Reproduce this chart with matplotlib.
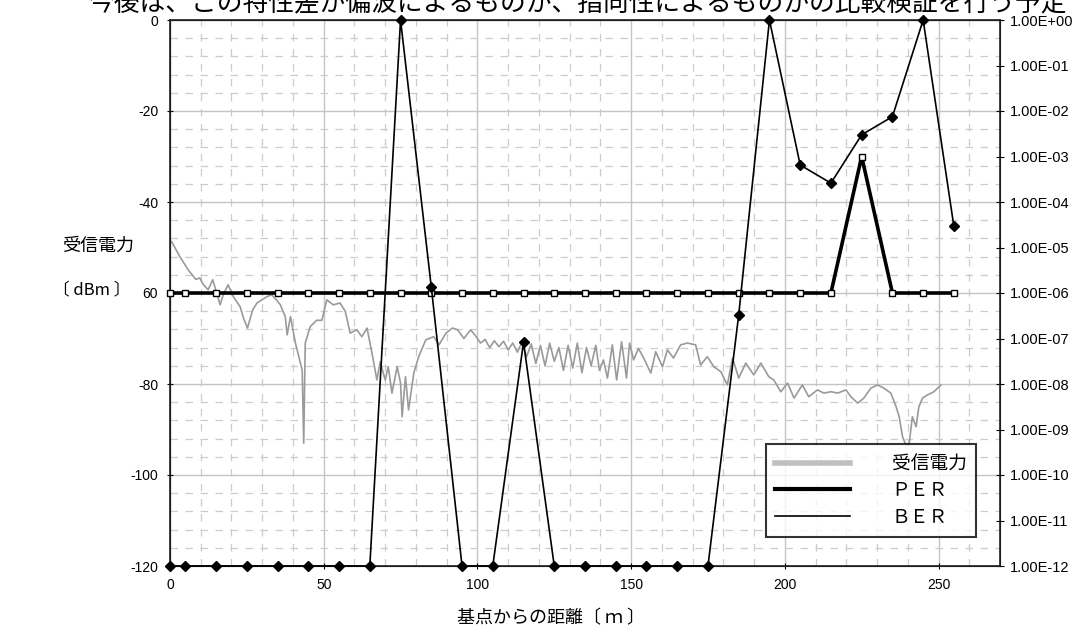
import matplotlib
matplotlib.use("Agg")
import matplotlib.pyplot as plt
from matplotlib.ticker import FixedLocator, MultipleLocator, FuncFormatter, NullLocator
from matplotlib.lines import Line2D

plt.rcParams["font.family"] = ["Liberation Sans", "Noto Sans CJK JP", "DejaVu Sans"]
JP = ["Noto Sans CJK JP", "DejaVu Sans"]

# ── 受信電力 (dBm) ───────────────────────────────────────────────────────
pwr_x = [0.5, 3.2, 6.0, 8.4, 9.7, 10.7, 12.4, 13.9, 15.2, 16.3, 17.3, 18.9,
         20.6, 22.8, 23.9, 25.2, 26.9, 28.3, 29.9, 31.5, 33.1, 34.6, 35.9,
         37.5, 38.1, 39.2, 40.8, 41.9, 43.0, 43.5, 44.0, 45.6, 47.7, 49.4,
         51.0, 53.1, 55.3, 57.0, 58.6, 60.8, 62.4, 64.1, 65.7, 67.3, 68.4,
         70.0, 71.0, 72.2, 73.9, 75.0, 75.5, 76.6, 77.6, 79.3, 80.9, 83.2,
         85.8, 87.5, 89.8, 91.9, 93.6, 95.6, 97.8, 99.5, 101.0, 102.5, 104.0,
         105.5, 107.0, 108.5, 110.0, 111.5, 113.0, 114.5, 116.0, 117.5, 119.0,
         120.5, 122.0, 123.5, 125.0, 126.5, 128.0, 129.5, 131.0, 132.5, 134.0,
         135.5, 137.0, 138.5, 139.7, 141.0, 142.3, 143.9, 145.3, 146.9, 148.5,
         149.5, 150.8, 152.4, 154.1, 156.4, 158.0, 160.2, 161.8, 163.8, 166.1,
         168.3, 171.0, 172.6, 174.8, 176.9, 179.2, 181.3, 183.0, 185.0, 187.3,
         189.9, 192.2, 194.8, 196.4, 198.7, 200.9, 203.0, 205.7, 207.8, 210.6,
         212.7, 215.0, 217.2, 219.9, 221.5, 223.7, 225.7, 228.0, 230.2, 232.2,
         234.5, 236.2, 237.2, 238.3, 239.4, 240.4, 241.5, 242.7, 243.6, 244.8,
         246.4, 248.5, 250.8]
pwr_y = [-48.7, -52.0, -55.0, -57.0, -56.7, -58.0, -59.3, -57.1, -60.0, -62.6,
         -60.4, -58.2, -60.8, -63.0, -65.5, -67.7, -63.7, -62.2, -61.5, -60.8,
         -60.4, -61.5, -62.6, -65.2, -69.2, -65.2, -71.0, -74.0, -77.0, -93.0,
         -71.0, -67.4, -66.0, -66.0, -61.5, -62.6, -62.2, -64.0, -68.8, -68.1,
         -69.6, -67.7, -73.2, -79.1, -75.1, -79.1, -76.2, -82.0, -76.2, -79.8,
         -87.2, -78.4, -85.7, -77.6, -74.0, -70.3, -69.6, -71.4, -68.8, -67.7,
         -68.1, -70.0, -68.1, -69.5, -71.0, -70.2, -72.0, -70.5, -71.8, -70.6,
         -72.5, -71.0, -73.0, -70.8, -74.0, -71.2, -75.5, -71.5, -76.0, -71.0,
         -75.0, -72.0, -77.0, -71.5, -76.5, -71.0, -77.5, -72.0, -76.0, -71.5,
         -77.0, -74.7, -78.7, -71.4, -79.1, -70.7, -78.7, -71.0, -74.7, -72.2,
         -74.3, -77.6, -72.9, -76.2, -72.5, -74.3, -71.4, -71.0, -71.4, -75.8,
         -74.0, -76.2, -77.3, -80.2, -74.3, -78.7, -75.4, -78.0, -75.4, -78.4,
         -79.1, -81.7, -79.8, -83.1, -80.2, -82.8, -81.3, -82.0, -81.7, -82.0,
         -81.3, -82.8, -84.2, -83.1, -80.9, -80.2, -80.9, -82.0, -85.0, -87.2,
         -91.6, -93.4, -93.4, -87.2, -89.4, -85.0, -83.1, -82.4, -81.7, -80.2]

# ── PER / BER ─────────────────────────────────────────────────────────────
err_x = [0, 5, 15, 25, 35, 45, 55, 65, 75, 85, 95, 105, 115, 125, 135, 145,
         155, 165, 175, 185, 195, 205, 215, 225, 235, 245, 255]
per = [1e-6] * 23 + [1e-3, 1e-6, 1e-6, 1e-6]
ber = [1e-12, 1e-12, 1e-12, 1e-12, 1e-12, 1e-12, 1e-12, 1e-12, 1.0, 1.35e-6,
       1e-12, 1e-12, 8.3e-8, 1e-12, 1e-12, 1e-12, 1e-12, 1e-12, 1e-12, 3.3e-7,
       1.0, 6.5e-4, 2.6e-4, 3.0e-3, 7.5e-3, 1.0, 2.9e-5]

left_ticks = [0, -20, -40, -60, -80, -100, -120]
left_labels = ["0", "-20", "-40", "60", "-80", "-100", "-120"]

fig = plt.figure(figsize=(10.8, 6.35), dpi=100)
ax = fig.add_axes([170 / 1080, 1 - 566 / 635, 830 / 1080, 546 / 635])
ax2 = ax.twinx()

# grid
ax.set_xlim(0, 270)
ax.set_ylim(-120, 0)
ax.xaxis.set_major_locator(MultipleLocator(50))
ax.xaxis.set_minor_locator(MultipleLocator(10))
ax.yaxis.set_major_locator(FixedLocator(left_ticks))
ax.yaxis.set_minor_locator(MultipleLocator(4))
ax.set_yticklabels(left_labels)
ax.grid(which="major", color="#c4c4c4", lw=1.0)
ax.grid(which="minor", color="#cccccc", lw=0.9, ls=(0, (6, 6)))
ax.set_axisbelow(True)
ax.tick_params(which="minor", length=0)
ax.tick_params(which="major", direction="inout", length=5, labelsize=10, pad=6)

ax.plot(pwr_x, pwr_y, color="#9a9a9a", lw=1.2)

ax2.set_yscale("log")
ax2.set_ylim(1e-12, 1)
ax2.yaxis.set_major_locator(FixedLocator([10.0 ** -k for k in range(13)]))
ax2.yaxis.set_minor_locator(NullLocator())
ax2.yaxis.set_major_formatter(FuncFormatter(lambda v, p: f"{v:.2E}"))
ax2.tick_params(direction="inout", length=6, labelsize=10.5, pad=4)

ax2.plot(err_x, per, color="black", lw=2.6, marker="s", ms=4.5, mfc="white",
         mec="black", mew=1.0, clip_on=False, zorder=3)
ax2.plot(err_x, ber, color="black", lw=1.2, marker="D", ms=5, mfc="black",
         mec="black", clip_on=False, zorder=4)

for s in ax2.spines.values():
    s.set_color("#222222")
    s.set_linewidth(1.2)

# texts (the top line is cut off in the original too)
fig.text(88 / 1080, 1 - 10 / 635,
         "今後は、この特性差が偏波によるものか、指向性によるものかの比較検証を行う予定",
         family=JP, fontsize=18.5, va="baseline", ha="left")
fig.text(98 / 1080, 1 - 246 / 635, "受信電力", family=JP, fontsize=13,
         ha="center", va="center")
fig.text(92 / 1080, 1 - 290 / 635, "〔 dBm 〕", family=JP, fontsize=12,
         ha="center", va="center")
fig.text(551 / 1080, 1 - 618 / 635, "基点からの距離〔 ｍ 〕", family=JP, fontsize=13,
         ha="center", va="center")

handles = [Line2D([], [], color="#c0c0c0", lw=4),
           Line2D([], [], color="black", lw=3),
           Line2D([], [], color="black", lw=1.2)]
leg = fig.legend(handles, ["受信電力", "ＰＥＲ", "ＢＥＲ"],
                 loc="upper left", bbox_to_anchor=(766 / 1080, 1 - 444 / 635),
                 prop={"family": JP, "size": 13.5}, frameon=True, fancybox=False,
                 handlelength=4.0, handletextpad=2.2, labelspacing=0.3,
                 borderpad=0.5, borderaxespad=0)
leg.get_frame().set_edgecolor("black")
leg.get_frame().set_linewidth(1.5)

fig.savefig("out.png", dpi=100)
